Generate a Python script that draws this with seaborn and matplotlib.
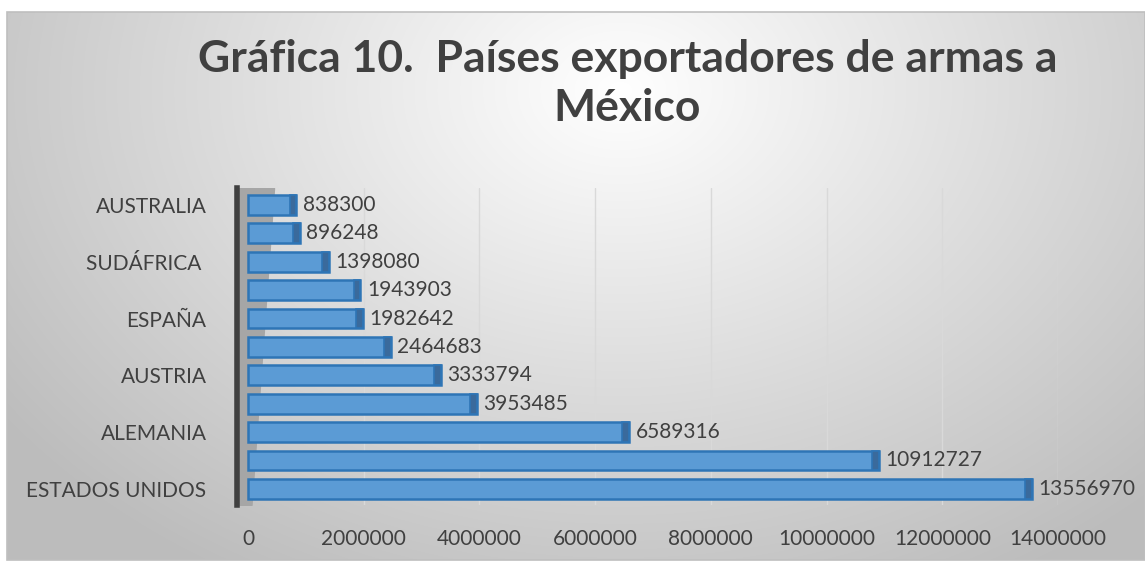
import numpy as np
import pandas as pd
import matplotlib
matplotlib.use("Agg")
import matplotlib.pyplot as plt
from matplotlib.patches import Rectangle
import seaborn as sns

# ---- data (top to bottom as drawn) ----
row_ids = ["r1", "r2", "r3", "r4", "r5", "r6", "r7", "r8", "r9", "r10", "r11"]
tick_labels = ["AUSTRALIA", "", "SUDÁFRICA ", "", "ESPAÑA", "", "AUSTRIA", "", "ALEMANIA", "", "ESTADOS UNIDOS"]
values = [838300, 896248, 1398080, 1943903, 1982642, 2464683, 3333794, 3953485, 6589316, 10912727, 13556970]
x_ticks = [0, 2000000, 4000000, 6000000, 8000000, 10000000, 12000000, 14000000]
title = "Gráfica 10.  Países exportadores de armas a\nMéxico"

sns.set_theme(style="white")
plt.rcParams["font.family"] = ["Lato", "DejaVu Sans"]

W, H = 1145, 565
fig = plt.figure(figsize=(W / 100, H / 100), dpi=100)

# background gradient
bg = fig.add_axes([0, 0, 1, 1], zorder=-10)
yy, xx = np.mgrid[0:H, 0:W]
cx, cy = 620, 90
d = np.sqrt(((xx - cx) / 700.0) ** 2 + ((yy - cy) / 520.0) ** 2)
g = np.clip(1.0 - 0.24 * d, 0.74, 1.0)
img = np.dstack([g, g, g])
img[:12, :, :] = 1.0
img[:, :7, :] = 1.0
img[560:, :, :] = 1.0
bg.imshow(img, aspect="auto", extent=[0, W, H, 0])
bg.add_patch(Rectangle((7, 12), W - 7, 548, fill=False, edgecolor="#BFBFBF", lw=1.2))
bg.set_xlim(0, W)
bg.set_ylim(H, 0)
bg.axis("off")

# plot axes
left_px, right_px = 237, 1058
top_px, bot_px = 188, 505
ax = fig.add_axes([left_px / W, 1 - bot_px / H, (right_px - left_px) / W, (bot_px - top_px) / H])
ax.patch.set_alpha(0)

df = pd.DataFrame({"row": row_ids, "value": values})
sns.barplot(data=df, x="value", y="row", order=row_ids, orient="h",
            color="#5B9BD5", saturation=1, width=0.7, ax=ax,
            edgecolor="#2E75B6", linewidth=1.8, zorder=3)

# 3D end caps of the bars
cap = 120000
ax.barh(range(len(values)), [cap] * len(values), left=[v - cap for v in values],
        height=0.7, color="#3A6A9C", edgecolor="#2E75B6", linewidth=1.2, zorder=4)

ax.set_xlim(-190000, 14000000)
ax.set_ylim(10.57, -0.6)
# side wall
ax.fill_betweenx([-0.6, 10.57], [-190000, -190000], [450000, 60000], color="#A6A6A6", zorder=1)
for t in x_ticks[1:]:
    ax.axvline(t, color="#D9D9D9", lw=1, zorder=0)

for i, v in enumerate(values):
    ax.text(v + 110000, i, f"{v}", va="center", ha="left", fontsize=15,
            color="#404040", clip_on=False)

ax.set_xticks(x_ticks)
ax.set_xticklabels([str(t) for t in x_ticks], fontsize=15, color="#404040")
ax.set_yticks(range(len(row_ids)))
ax.set_yticklabels(tick_labels, fontsize=15, color="#404040")
ax.tick_params(axis="x", length=0, pad=17)
ax.tick_params(axis="y", length=0, pad=22)
ax.set_xlabel("")
ax.set_ylabel("")
for s in ["top", "right", "bottom"]:
    ax.spines[s].set_visible(False)
ax.spines["left"].set_color("#404040")
ax.spines["left"].set_linewidth(4)

fig.text(0.548, 0.852, title, ha="center", va="center", fontsize=32,
         fontweight="bold", color="#404040", linespacing=1.25)

fig.savefig("out.png", dpi=100)
